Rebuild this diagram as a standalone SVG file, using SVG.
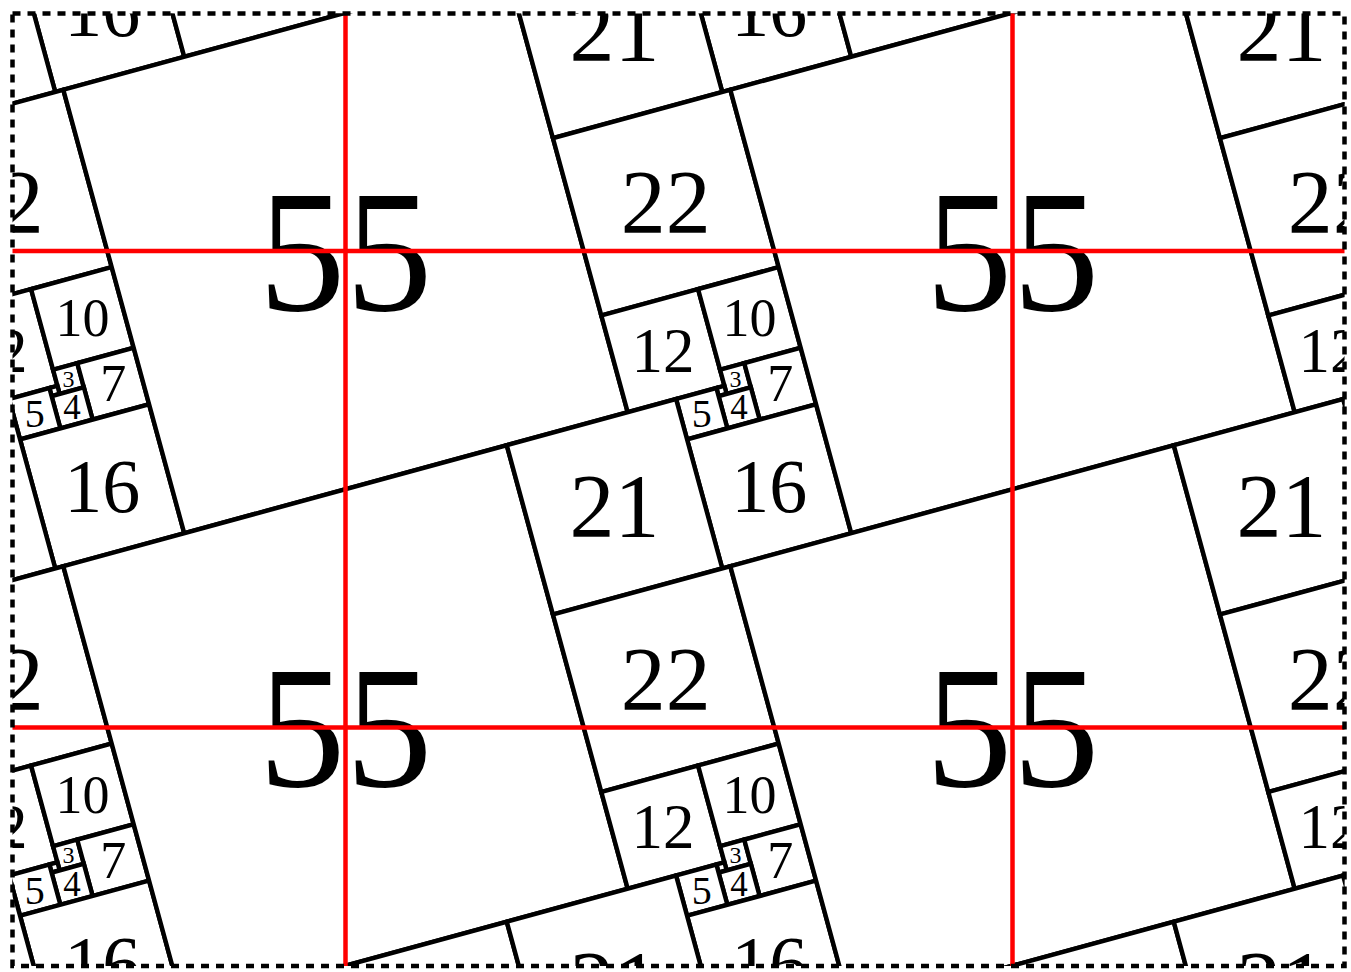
<svg xmlns="http://www.w3.org/2000/svg" width="1351" height="972" viewBox="0 0 1351 972">
<style>
.sq{fill:#fff;stroke:#000;stroke-width:0.53}
.lb{font-family:"Liberation Serif","Times New Roman",serif;text-anchor:middle;dominant-baseline:central;fill:#000}
.red{stroke:#f00;stroke-width:4.5;fill:none}
.border{fill:none;stroke:#000;stroke-width:4.5;stroke-dasharray:8 7}
</style>
<defs>
<clipPath id="clip"><rect x="12.5" y="13.5" width="1332" height="952.5"/></clipPath>
<g id="tile">
  <g id="sq55"><rect class="sq" transform="matrix(8.0628,-2.199,2.199,8.0628,63.3,89.75)" x="0" y="0" width="55" height="55"/><text class="lb" x="345.5" y="251" font-size="174">55</text></g>
  <g id="sq21"><rect class="sq" transform="matrix(8.0628,-2.199,2.199,8.0628,63.3,89.75)" x="55" y="0" width="21" height="21"/><text class="lb" x="614.5" y="30.4" font-size="90">21</text></g>
  <g id="sq22"><rect class="sq" transform="matrix(8.0628,-2.199,2.199,8.0628,63.3,89.75)" x="55" y="21" width="22" height="22"/><text class="lb" x="665.8" y="202.6" font-size="90">22</text></g>
  <g id="sq12"><rect class="sq" transform="matrix(8.0628,-2.199,2.199,8.0628,63.3,89.75)" x="55" y="43" width="12" height="12"/><text class="lb" x="662.9" y="350.7" font-size="63">12</text></g>
  <g id="sq10"><rect class="sq" transform="matrix(8.0628,-2.199,2.199,8.0628,63.3,89.75)" x="67" y="43" width="10" height="10"/><text class="lb" x="749.4" y="318.4" font-size="54">10</text></g>
  <g id="sq3"><rect class="sq" transform="matrix(8.0628,-2.199,2.199,8.0628,63.3,89.75)" x="67" y="53" width="3" height="3"/><text class="lb" x="735.4" y="378.5" font-size="24">3</text></g>
  <g id="sq7"><rect class="sq" transform="matrix(8.0628,-2.199,2.199,8.0628,63.3,89.75)" x="70" y="53" width="7" height="7"/><text class="lb" x="780.2" y="383.7" font-size="52">7</text></g>
  <g id="sq1"><rect class="sq" transform="matrix(8.0628,-2.199,2.199,8.0628,63.3,89.75)" x="66" y="55" width="1" height="1"/></g>
  <g id="sq4"><rect class="sq" transform="matrix(8.0628,-2.199,2.199,8.0628,63.3,89.75)" x="66" y="56" width="4" height="4"/><text class="lb" x="739.1" y="407.9" font-size="35">4</text></g>
  <g id="sq5"><rect class="sq" transform="matrix(8.0628,-2.199,2.199,8.0628,63.3,89.75)" x="61" y="55" width="5" height="5"/><text class="lb" x="701.7" y="413.7" font-size="40">5</text></g>
  <g id="sq16"><rect class="sq" transform="matrix(8.0628,-2.199,2.199,8.0628,63.3,89.75)" x="61" y="60" width="16" height="16"/><text class="lb" x="769.2" y="486.3" font-size="76">16</text></g>
</g>
</defs>
<rect x="0" y="0" width="1351" height="972" fill="#fff"/>
<g id="tiling" clip-path="url(#clip)">
  <use href="#tile" x="-667" y="-476.44"/>
  <use href="#tile" x="0" y="-476.44"/>
  <use href="#tile" x="667" y="-476.44"/>
  <use href="#tile" x="-667" y="0"/>
  <use href="#tile" x="0" y="0"/>
  <use href="#tile" x="667" y="0"/>
  <use href="#tile" x="-667" y="476.44"/>
  <use href="#tile" x="0" y="476.44"/>
  <use href="#tile" x="667" y="476.44"/>
  <use href="#tile" x="-667" y="952.88"/>
  <use href="#tile" x="0" y="952.88"/>
  <use href="#tile" x="667" y="952.88"/>
</g>
<g id="connectors">
  <line class="red" x1="345.5" y1="13.5" x2="345.5" y2="966"/>
  <line class="red" x1="1012.5" y1="13.5" x2="1012.5" y2="966"/>
  <line class="red" x1="12.5" y1="251" x2="1344.5" y2="251"/>
  <line class="red" x1="12.5" y1="727.44" x2="1344.5" y2="727.44"/>
</g>
<rect id="frame" class="border" x="12.5" y="13.5" width="1332" height="952.5"/>
</svg>
